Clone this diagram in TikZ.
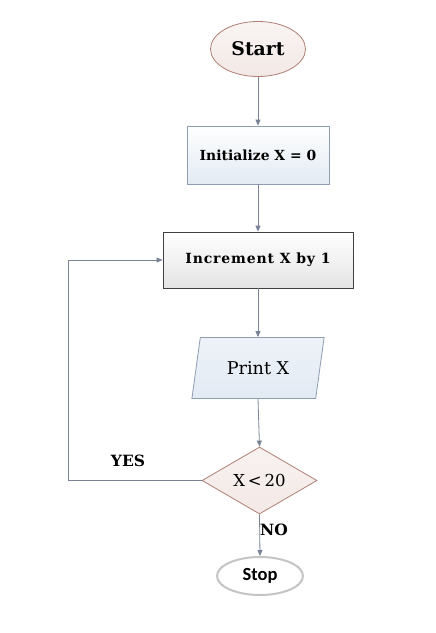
\documentclass[tikz,border=0pt]{standalone}
\usepackage{fontspec}
\setmainfont{DejaVu Serif}
\newfontfamily\stopfont{Carlito}
\newfontfamily\widefont[LetterSpace=6]{DejaVu Serif}
\usetikzlibrary{shapes.geometric,arrows.meta}
\definecolor{linec}{HTML}{7A8296}
\definecolor{startfill}{HTML}{F3E9E6}
\definecolor{startdraw}{HTML}{B07F75}
\definecolor{bluefill}{HTML}{E2EAF3}
\definecolor{bluedraw}{HTML}{8E9DB3}
\definecolor{grayfill}{HTML}{E4E4E4}
\definecolor{graydraw}{HTML}{404040}
\definecolor{stopdraw}{HTML}{C4C4C4}
\begin{document}
\begin{tikzpicture}[x=1pt,y=-1pt,
  conn/.style={draw=linec,line width=0.8pt,-{Triangle[width=5pt,length=6pt]}},
  startnode/.style={ellipse,draw=startdraw,line width=0.8pt,top color=white!50!startfill,bottom color=startfill,minimum width=95pt,minimum height=55pt,inner sep=0pt,font=\bfseries\fontsize{18.8}{20}\selectfont},
  initbox/.style={rectangle,draw=bluedraw,line width=0.8pt,top color=white,bottom color=bluefill,minimum width=142pt,minimum height=58pt,inner sep=0pt,font=\bfseries\fontsize{13.9}{16}\selectfont},
  incbox/.style={rectangle,draw=graydraw,line width=0.8pt,top color=white,bottom color=grayfill,minimum width=190pt,minimum height=56pt,inner sep=0pt,font=\widefont\bfseries\fontsize{14}{16}\selectfont},
  iobox/.style={trapezium,trapezium stretches=true,trapezium left angle=71,trapezium right angle=109,draw=bluedraw,line width=0.8pt,top color=white!40!bluefill,bottom color=bluefill,minimum width=133pt,minimum height=61pt,inner sep=0pt,font=\fontsize{17.6}{18}\selectfont},
  decbox/.style={diamond,aspect=1.72,draw=startdraw,line width=0.8pt,top color=white!40!startfill,bottom color=startfill,minimum width=115pt,minimum height=67pt,inner sep=0pt,font=\fontsize{16.5}{18}\selectfont},
  stopnode/.style={ellipse,draw=stopdraw,line width=2pt,fill=white,minimum width=86pt,minimum height=38pt,inner sep=0pt,font=\stopfont\bfseries\fontsize{18.5}{20}\selectfont},
  lbl/.style={font=\bfseries\fontsize{15.5}{17}\selectfont,inner sep=0pt}]
\useasboundingbox (0,0) rectangle (436,633);
\fill[white] (0,0) rectangle (436,633);
\node[startnode] (start) at (258,49) {Start};
\node[initbox] (init) at (258,155) {Initialize X = 0};
\node[incbox] (inc) at (258,260) {Increment X by 1};
\node[iobox] (print) at (258,368) {Print X};
\node[decbox] (dec) at (259.5,480.5) {X\,<\,20};
\node[stopnode] (stop) at (260,576) {Stop};
\coordinate (lb) at (68,480.5);
\coordinate (lt) at (68,260);
\draw[conn] (start) -- (init);
\draw[conn] (init) -- (inc);
\draw[conn] (inc) -- (print);
\draw[conn] (print.south) -- (dec.north);
\draw[conn] (dec.south) -- (stop.north);
\draw[conn] (dec.west) -- (lb) -- (lt) -- (inc.west);
\node[lbl] (yes) at (128,461) {YES};
\node[lbl] (no) at (274,530) {NO};
\end{tikzpicture}
\end{document}
